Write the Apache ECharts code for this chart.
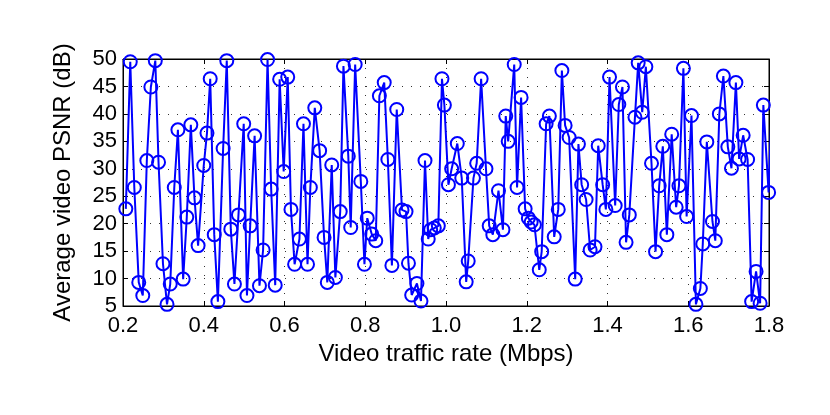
<!DOCTYPE html>
<html>
<head>
<meta charset="utf-8">
<script src="https://cdn.jsdelivr.net/npm/echarts@6/dist/echarts.min.js"></script>
<style>
  html, body { margin: 0; padding: 0; background: #fff; }
  #chart { width: 830px; height: 415px; }
</style>
</head>
<body>
<div id="chart"></div>
<script>
// traffic rate (Mbps)
var rates = [
  0.207, 0.218, 0.228, 0.239, 0.249, 0.259, 0.269, 0.280, 0.288, 0.299,
  0.309, 0.317, 0.327, 0.336, 0.349, 0.358, 0.368, 0.377, 0.386, 0.400,
  0.408, 0.416, 0.426, 0.435, 0.448, 0.457, 0.467, 0.476, 0.486, 0.499,
  0.507, 0.515, 0.526, 0.538, 0.547, 0.558, 0.567, 0.577, 0.588, 0.598,
  0.608, 0.616, 0.625, 0.637, 0.647, 0.657, 0.664, 0.675, 0.687, 0.698,
  0.706, 0.717, 0.726, 0.738, 0.746, 0.758, 0.764, 0.775, 0.789, 0.798,
  0.805, 0.816, 0.826, 0.835, 0.847, 0.856, 0.866, 0.878, 0.891, 0.901,
  0.907, 0.915, 0.928, 0.938, 0.948, 0.956, 0.962, 0.971, 0.981, 0.990,
  0.996, 1.006, 1.014, 1.028, 1.039, 1.050, 1.055, 1.068, 1.076, 1.087,
  1.099, 1.107, 1.116, 1.130, 1.141, 1.148, 1.154, 1.169, 1.176, 1.186,
  1.196, 1.204, 1.211, 1.219, 1.231, 1.237, 1.248, 1.256, 1.268, 1.278,
  1.287, 1.295, 1.305, 1.320, 1.328, 1.336, 1.347, 1.357, 1.369, 1.377,
  1.388, 1.396, 1.405, 1.419, 1.428, 1.437, 1.446, 1.454, 1.468, 1.476,
  1.486, 1.495, 1.509, 1.519, 1.528, 1.537, 1.547, 1.559, 1.570, 1.577,
  1.588, 1.596, 1.608, 1.619, 1.630, 1.636, 1.646, 1.660, 1.667, 1.677,
  1.687, 1.698, 1.707, 1.718, 1.726, 1.736, 1.747, 1.757, 1.768, 1.778,
  1.786, 1.799, 1.810
];
// average PSNR (dB)
var psnr = [
  22.7, 49.5, 26.6, 9.3, 6.9, 31.5, 44.9, 49.7, 31.2, 12.7,
  5.3, 9.0, 26.6, 37.1, 9.9, 21.2, 38.0, 24.7, 16.0, 30.6,
  36.5, 46.4, 18.0, 5.8, 33.7, 49.7, 19.0, 9.0, 21.6, 38.2,
  6.9, 19.6, 36.0, 8.7, 15.2, 49.9, 26.3, 8.8, 46.3, 29.5,
  46.7, 22.6, 12.6, 17.2, 38.2, 12.6, 26.6, 41.1, 33.3, 17.5,
  9.3, 30.7, 10.2, 22.2, 48.7, 32.3, 19.3, 49.0, 27.7, 12.6,
  21.0, 18.1, 16.9, 43.3, 45.7, 31.7, 12.4, 40.8, 22.5, 22.2,
  12.8, 7.0, 9.1, 5.9, 31.5, 17.2, 18.9, 19.2, 19.6, 46.4,
  41.6, 27.1, 30.0, 34.6, 28.3, 9.4, 13.2, 28.3, 31.0, 46.4,
  30.0, 19.6, 18.0, 26.0, 18.9, 39.6, 35.0, 49.0, 26.6, 43.0,
  22.7, 21.0, 20.3, 19.8, 11.6, 14.9, 38.2, 39.6, 17.6, 22.6,
  47.9, 37.9, 35.7, 9.9, 34.5, 27.1, 24.4, 15.2, 15.8, 34.2,
  27.1, 22.6, 46.7, 23.3, 41.7, 44.9, 16.6, 21.6, 39.4, 49.3,
  40.3, 48.6, 31.0, 14.9, 26.9, 34.1, 18.0, 36.3, 23.0, 26.9,
  48.3, 21.3, 39.7, 5.3, 8.2, 16.3, 34.9, 20.4, 16.9, 40.0,
  46.9, 34.0, 30.1, 45.7, 31.8, 36.1, 31.7, 5.8, 11.3, 5.5,
  41.6, 25.7, 49.0
];

var chart = echarts.init(document.getElementById('chart'), null, { renderer: 'canvas' });

var font = 'Liberation Sans, Arial, Helvetica, sans-serif';
var dotted = { color: '#333', width: 1, type: [1, 8] };

var option = {
    animation: false,
    backgroundColor: '#fff',
    grid: {
        left: 123, right: 61, top: 59, bottom: 109,
        show: true, borderColor: '#000', borderWidth: 1, backgroundColor: 'transparent'
    },
    xAxis: [
        {
            type: 'value', min: 0.2, max: 1.8, interval: 0.2,
            name: 'Video traffic rate (Mbps)', nameLocation: 'middle', nameGap: 32,
            nameTextStyle: { fontFamily: font, fontSize: 24, color: '#000' },
            axisLine: { show: true, lineStyle: { color: '#000', width: 1 } },
            axisTick: { show: true, inside: true, length: 5, lineStyle: { color: '#000' } },
            axisLabel: {
                fontFamily: font, fontSize: 22, color: '#000', margin: 9,
                formatter: function (v) { return v.toFixed(1); }
            },
            splitLine: { show: true, lineStyle: dotted }
        },
        {
            type: 'value', min: 0.2, max: 1.8, interval: 0.2, position: 'top',
            axisLine: { show: true, lineStyle: { color: '#000' } },
            axisTick: { show: true, inside: true, length: 5, lineStyle: { color: '#000' } },
            axisLabel: { show: false },
            splitLine: { show: false }
        }
    ],
    yAxis: [
        {
            type: 'value', min: 5, max: 50, interval: 5,
            name: 'Average video PSNR (dB)', nameLocation: 'middle', nameGap: 48,
            nameTextStyle: { fontFamily: font, fontSize: 24, color: '#000' },
            axisLine: { show: true, lineStyle: { color: '#000', width: 1 } },
            axisTick: { show: true, inside: true, length: 5, lineStyle: { color: '#000' } },
            axisLabel: { fontFamily: font, fontSize: 22, color: '#000', margin: 6 },
            splitLine: { show: true, lineStyle: dotted }
        },
        {
            type: 'value', min: 5, max: 50, interval: 5, position: 'right',
            axisLine: { show: true, lineStyle: { color: '#000' } },
            axisTick: { show: true, inside: true, length: 5, lineStyle: { color: '#000' } },
            axisLabel: { show: false },
            splitLine: { show: false }
        }
    ],
    series: [
        {
            type: 'line',
            data: rates.map(function (r, i) { return [r, psnr[i]]; }),
            clip: true,
            symbol: 'circle',
            symbolSize: 13,
            showAllSymbol: true,
            lineStyle: { color: '#0000ff', width: 2 },
            itemStyle: { color: 'rgba(0,0,0,0)', borderColor: '#0000ff', borderWidth: 2 },
            z: 3
        }
    ]
};

chart.setOption(option);
</script>
</body>
</html>
